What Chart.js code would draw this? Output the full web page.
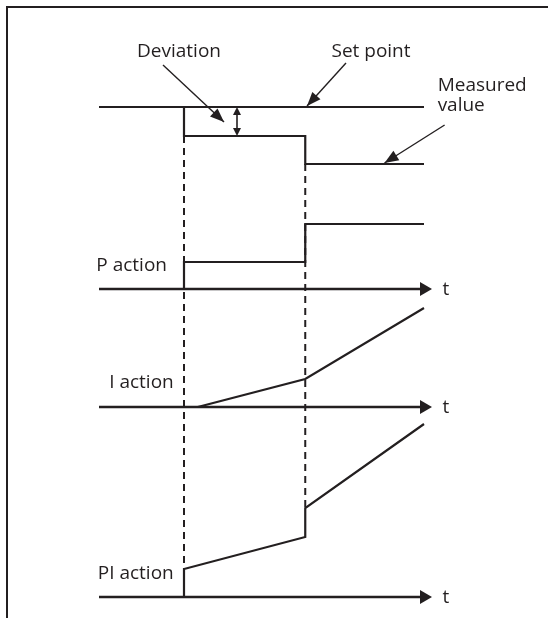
<!DOCTYPE html>
<html>
<head>
<meta charset="utf-8">
<script src="https://cdn.jsdelivr.net/npm/chart.js@4.4.1/dist/chart.umd.min.js"></script>
<style>
  html, body { margin: 0; padding: 0; background: #fff; }
  canvas { display: block; }
</style>
</head>
<body>
<canvas id="piChart" width="548" height="618"></canvas>
<script>
// values (time units / signal units)
const stepTimes = [6.8, 16.5];
const axisTimes = [0, 26];
const axisLevels = [30.8, 19.0, 0];          // P, I, PI time axes
const setPointTimes = [0, 26];
const setPointValues = [49, 49];
const measuredTimes = [0, 6.8, 6.8, 16.5, 16.5, 26];
const measuredValues = [49, 49, 46.1, 46.1, 43.3, 43.3];
const pTimes = [6.8, 6.8, 16.5, 16.5, 26];
const pValues = [30.8, 33.5, 33.5, 37.3, 37.3];
const iTimes = [7.9, 16.5, 26];
const iValues = [19.0, 21.8, 28.9];
const piTimes = [6.8, 6.8, 16.5, 16.5, 26];
const piValues = [0, 2.8, 6.0, 8.9, 17.3];
const actionLabels = ['P action', 'I action', 'PI action'];

const ink = '#231f20';
const font = '19px "Open Sans", sans-serif';

function series(ts, vs) {
  return ts.map((t, i) => ({ x: t, y: vs[i] }));
}

function curve(ts, vs, width) {
  return {
    data: series(ts, vs),
    showLine: true,
    borderColor: ink,
    borderWidth: width,
    borderJoinStyle: 'miter',
    pointRadius: 0,
    clip: false
  };
}

// time axes with an arrow head on the last point
function timeAxis(level) {
  return {
    data: series(axisTimes, [level, level]),
    showLine: true,
    borderColor: ink,
    borderWidth: 2.7,
    pointStyle: 'triangle',
    rotation: 90,
    pointRadius: [0, 8],
    pointBackgroundColor: ink,
    pointBorderWidth: 0,
    clip: false
  };
}

function dashed(t, from, to) {
  const d = curve([t, t], [from, to], 2);
  d.borderDash = [7, 5];
  return d;
}

// labels and pointer arrows of the diagram, in data units
const notes = [
  { text: 'Deviation', t: 6.4, v: 54.0, align: 'center' },
  { text: 'Set point', t: 21.76, v: 54.0, align: 'center' },
  { text: 'Measured', t: 27.09, v: 50.63, align: 'left' },
  { text: 'value', t: 27.09, v: 48.6, align: 'left' },
  { text: actionLabels[0], t: 5.44, v: 32.65, align: 'right' },
  { text: actionLabels[1], t: 5.98, v: 20.87, align: 'right' },
  { text: actionLabels[2], t: 5.98, v: 1.8, align: 'right' }
];
const pointers = [
  [5.12, 53.2, 10.0, 47.5],
  [19.76, 53.4, 16.64, 49.1],
  [27.65, 47.2, 22.84, 43.4]
];

function head(ctx, x0, y0, x1, y1, len, half) {
  const a = Math.atan2(y1 - y0, x1 - x0);
  ctx.beginPath();
  ctx.moveTo(x1, y1);
  ctx.lineTo(x1 - len * Math.cos(a) + half * Math.sin(a), y1 - len * Math.sin(a) - half * Math.cos(a));
  ctx.lineTo(x1 - len * Math.cos(a) - half * Math.sin(a), y1 - len * Math.sin(a) + half * Math.cos(a));
  ctx.closePath();
  ctx.fill();
}

const decorations = {
  id: 'decorations',
  afterDatasetsDraw(chart) {
    const ctx = chart.ctx;
    const xs = chart.scales.x, ys = chart.scales.y;
    const px = t => xs.getPixelForValue(t);
    const py = v => ys.getPixelForValue(v);
    ctx.save();
    ctx.strokeStyle = ink;
    ctx.fillStyle = ink;

    // frame
    ctx.lineWidth = 2;
    ctx.beginPath();
    ctx.moveTo(548, 7);
    ctx.lineTo(7, 7);
    ctx.lineTo(7, 618);
    ctx.stroke();

    // texts
    ctx.font = font;
    ctx.textBaseline = 'alphabetic';
    notes.forEach(n => {
      ctx.textAlign = n.align;
      ctx.fillText(n.text, px(n.t), py(n.v));
    });
    ctx.textAlign = 'center';
    axisLevels.forEach(l => ctx.fillText('t', px(27.76), py(l - 0.6)));

    // pointer arrows
    ctx.lineWidth = 1.4;
    pointers.forEach(([t0, v0, t1, v1]) => {
      const x0 = px(t0), y0 = py(v0), x1 = px(t1), y1 = py(v1);
      ctx.beginPath();
      ctx.moveTo(x0, y0);
      ctx.lineTo(x1, y1);
      ctx.stroke();
      head(ctx, x0, y0, x1, y1, 14, 5.5);
    });

    // deviation double arrow
    const dx = px(11.04), dTop = py(setPointValues[0]), dBot = py(measuredValues[2]);
    ctx.lineWidth = 1.6;
    ctx.beginPath();
    ctx.moveTo(dx, dTop + 4);
    ctx.lineTo(dx, dBot - 4);
    ctx.stroke();
    head(ctx, dx, dBot, dx, dTop, 8, 4);
    head(ctx, dx, dTop, dx, dBot, 8, 4);
    ctx.restore();
  }
};

new Chart(document.getElementById('piChart'), {
  type: 'scatter',
  data: {
    datasets: [
      curve(setPointTimes, setPointValues, 2.2),
      curve(measuredTimes, measuredValues, 2.2),
      dashed(stepTimes[0], measuredValues[2], piValues[0]),
      dashed(stepTimes[1], measuredValues[4], piValues[3]),
      ...axisLevels.map(timeAxis),
      curve(pTimes, pValues, 2.2),
      curve(iTimes, iValues, 2.2),
      curve(piTimes, piValues, 2.2)
    ]
  },
  options: {
    responsive: false,
    animation: false,
    layout: { padding: { left: 99, right: 124, top: 97, bottom: 21 } },
    scales: {
      x: { type: 'linear', min: 0, max: 26, display: false },
      y: { type: 'linear', min: 0, max: 50, display: false }
    },
    plugins: {
      legend: { display: false },
      tooltip: { enabled: false }
    }
  },
  plugins: [decorations]
});
</script>
</body>
</html>
